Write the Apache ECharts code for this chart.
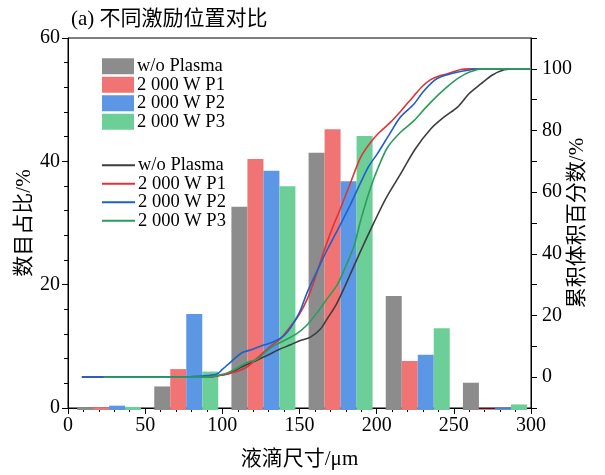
<!DOCTYPE html>
<html><head><meta charset="utf-8">
<script src="https://cdn.jsdelivr.net/npm/echarts@6/dist/echarts.min.js"></script>
<style>html,body{margin:0;padding:0;background:#fff}#c{width:605px;height:475px}</style>
</head><body><div id="c"></div>
<script>
// ---- data ----
const categories = ['0-50', '50-100', '100-150', '150-200', '200-250', '250-300'];
const barNames = ['w/o Plasma', '2 000 W P1', '2 000 W P2', '2 000 W P3'];
const lineNames = ['w/o Plasma ', '2 000 W P1 ', '2 000 W P2 ', '2 000 W P3 '];
const barGray  = [0.4, 3.8, 32.8, 41.5, 18.4, 4.4];
const barRed   = [0.4, 6.6, 40.5, 45.3, 7.9, 0.2];
const barBlue  = [0.7, 15.5, 38.6, 36.9, 8.9, 0.3];
const barGreen = [0.5, 6.2, 36.1, 44.2, 13.2, 0.9];

const cumGray = [[9,0],[23,0],[90,0],[98.7,0.6],[105,1.3],[111.7,3.1],[120,5],[129,7],[136,8.8],[144.2,10.5],[150,11.8],[157.1,13],[163.6,15.6],[168,19],[173.4,23.2],[179,29],[185.3,36.1],[192,43.5],[198.3,50.2],[206,58],[215.6,66],[225,74],[235,80.5],[244,84.5],[252.4,87.6],[260,92],[267.5,95.1],[275,98],[282.7,99.7],[290,100],[300,100]];
const cumRed = [[9,0],[23,0],[90,0],[98.7,0.6],[107,1.5],[116,3.3],[122.5,6.2],[131.2,10],[137.7,12.5],[144.2,16.5],[150,20.5],[155,25.3],[160,32],[165.8,40.8],[171,48],[176.6,54.8],[183,63],[189.6,71.3],[196.1,76.2],[202,79.5],[209,82.7],[216,86.5],[224.2,91.3],[230,94.5],[235,96.5],[240,97.6],[245.9,98.4],[254.5,99.8],[260,100],[300,100]];
const cumBlue = [[9,0],[80,0.2],[90,0.5],[96.5,1.0],[100,2.5],[107.4,5.8],[113,8],[118.2,8.8],[126.8,10.4],[133.3,11.5],[139.8,13.4],[144.2,16],[150,21],[155,27.5],[161,34],[168,41.4],[176,49],[183,56],[190,63.5],[195,68.5],[200.5,72.5],[209,79.4],[215.6,84.5],[224.2,88.6],[230,92.5],[237.2,96.2],[242,97.5],[248,98.4],[255,99.2],[261,99.7],[268,100],[300,100]];
const cumGreen = [[23,0],[90,0],[100.9,1.0],[108,2.5],[116,4.8],[122.5,5.8],[131.2,9.5],[139.8,11.8],[148.5,14.2],[155,17],[161.5,21],[168,25.5],[174.5,30],[180,36],[185.3,42.5],[190,51.5],[196.1,61.5],[201,68],[207,74.5],[215.6,79.5],[224.2,83.2],[231,87],[239.4,91.3],[246,94.3],[252.4,96.8],[257,98.2],[261,99.1],[267.5,100],[300,100]];

const xTicks = {min: 0, max: 300, interval: 50};
const yLeftTicks = {min: 0, max: 60, interval: 20};
const yRightTicks = {min: -10, max: 110, interval: 10};

const barColors = ['#8c8c8c', '#f07474', '#5b97e5', '#6ccf98'];
const lineColors = ['#3d3d3d', '#e23236', '#1d5fcf', '#2a9d5c'];
const FONT = "'Liberation Serif','Times New Roman','Noto Sans CJK SC',serif";

const chart = echarts.init(document.getElementById('c'), null, {renderer: 'canvas'});
const barData = [barGray, barRed, barBlue, barGreen];
const lineData = [cumGray, cumRed, cumBlue, cumGreen];

const axisCommon = {
  axisLine: {show: true, lineStyle: {color: '#000', width: 1}},
  axisTick: {show: true, inside: false, length: 6, lineStyle: {color: '#000'}},
  minorTick: {show: true, splitNumber: 5, length: 4, lineStyle: {color: '#000'}},
  splitLine: {show: false},
  nameMoveOverlap: false,
  axisLabel: {color: '#000', fontFamily: FONT, fontSize: 20},
  nameTextStyle: {color: '#000', fontFamily: FONT, fontSize: 21}
};

const series = [];
barNames.forEach((n, i) => {
  series.push({
    name: n, type: 'bar', xAxisIndex: 1, yAxisIndex: 2,
    data: barData[i], barWidth: 16, barGap: '0%',
    itemStyle: {color: barColors[i]}, z: 2
  });
});
lineNames.forEach((n, i) => {
  series.push({
    name: n, type: 'line', xAxisIndex: 0, yAxisIndex: 1,
    data: lineData[i], smooth: 0.3, symbol: 'none', showSymbol: false,
    lineStyle: {color: lineColors[i], width: 1.6}, itemStyle: {color: lineColors[i]}, z: 3
  });
});

const legendText = {fontFamily: FONT, fontSize: 18.5, color: '#000', lineHeight: 16, padding: [0,0,0,-2]};

chart.setOption({
  animation: false,
  backgroundColor: '#fff',
  title: {text: '(a) 不同激励位置对比', left: 66, top: 4,
    textStyle: {fontFamily: FONT, fontSize: 21, fontWeight: 'normal', color: '#000'}},
  grid: [
    {left: 68, right: 74, top: 38, bottom: 65, show: true, borderColor: '#000', borderWidth: 1, backgroundColor: 'transparent'},
    {left: 70.5, right: 71.5, top: 38, bottom: 65}
  ],
  legend: [
    {data: barNames, orient: 'vertical', left: 102, top: 57, itemWidth: 32, itemHeight: 16, itemGap: 0, padding: 0,
     icon: 'rect', selectedMode: false, textStyle: legendText},
    {data: lineNames.map(n => ({name: n, icon: 'rect'})), orient: 'vertical', left: 102, top: 156,
     itemWidth: 33, itemHeight: 2, itemGap: 0, padding: 0,
     selectedMode: false, textStyle: legendText}
  ],
  xAxis: [
    Object.assign({}, axisCommon, {type: 'value', gridIndex: 0, position: 'bottom',
      min: xTicks.min, max: xTicks.max, interval: xTicks.interval,
      name: '液滴尺寸/μm', nameLocation: 'middle', nameGap: 41,
      axisLabel: Object.assign({}, axisCommon.axisLabel, {margin: 8})}),
    {type: 'category', gridIndex: 1, data: categories, show: false, boundaryGap: true}
  ],
  yAxis: [
    Object.assign({}, axisCommon, {type: 'value', gridIndex: 0, position: 'left',
      min: yLeftTicks.min, max: yLeftTicks.max, interval: yLeftTicks.interval,
      name: '数目占比/%', nameLocation: 'middle', nameGap: 33, nameRotate: 90,
      axisLabel: Object.assign({}, axisCommon.axisLabel, {margin: 8})}),
    Object.assign({}, axisCommon, {type: 'value', gridIndex: 0, position: 'right',
      min: yRightTicks.min, max: yRightTicks.max, interval: yRightTicks.interval,
      minorTick: {show: false},
      name: '累积体积百分数/%', nameLocation: 'middle', nameGap: 36, nameRotate: 90,
      axisLabel: Object.assign({}, axisCommon.axisLabel, {margin: 11,
        formatter: v => (v >= 0 && v <= 100 && v % 20 === 0) ? String(v) : ''})}),
    {type: 'value', gridIndex: 1, min: yLeftTicks.min, max: yLeftTicks.max, show: false}
  ],
  series: series
});
</script></body></html>
